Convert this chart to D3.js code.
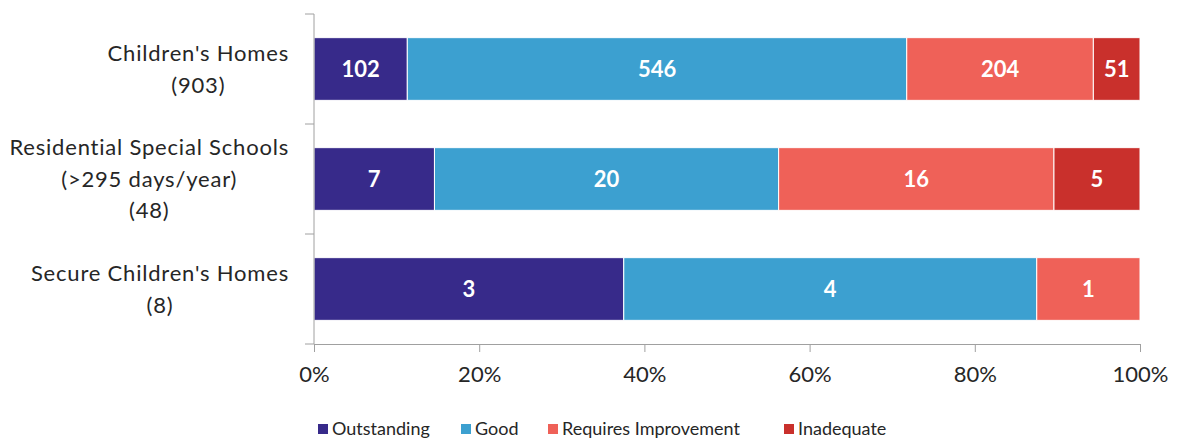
<!DOCTYPE html>
<html>
<head>
<meta charset="utf-8">
<script src="https://cdn.jsdelivr.net/npm/d3@7"></script>
<style>
  body { margin: 0; background: #fff; }
  svg { font-family: Lato, "Open Sans", sans-serif; }
</style>
</head>
<body>
<div id="chart"></div>
<script>
// 数据
const categories = ["Children's Homes|(903)", "Residential Special Schools|(>295 days/year)|(48)", "Secure Children's Homes|(8)"];
const seriesNames = ["Outstanding", "Good", "Requires Improvement", "Inadequate"];
const outstanding = [102, 7, 3];
const good = [546, 20, 4];
const requiresImprovement = [204, 16, 1];
const inadequate = [51, 5, 0];
const xTicks = [0, 0.2, 0.4, 0.6, 0.8, 1];
const colors = ["#372a8a", "#3ca0d0", "#ef6158", "#c9302c"];

// 宽表
const table = categories.map((c, i) => {
    const row = {cat: c};
    row[seriesNames[0]] = outstanding[i];
    row[seriesNames[1]] = good[i];
    row[seriesNames[2]] = requiresImprovement[i];
    row[seriesNames[3]] = inadequate[i];
    return row;
});

const margin = {top: 14, right: 38, bottom: 95, left: 314},
    width = 1178 - margin.left - margin.right,
    height = 439 - margin.top - margin.bottom;

const svg = d3.select("#chart")
    .append("svg")
    .attr("width", 1178)
    .attr("height", 439);

const g = svg.append("g")
    .attr("transform", `translate(${margin.left},${margin.top})`);

const x = d3.scaleLinear().domain([0, 1]).range([0, width]);
const y = d3.scaleBand().domain(categories).range([0, height]).paddingInner(0.43).paddingOuter(0.215);

const color = d3.scaleOrdinal().domain(seriesNames).range(colors);

// 百分比堆叠
const stack = d3.stack().keys(seriesNames).offset(d3.stackOffsetExpand);
const series = stack(table);

const layers = g.selectAll(".layer")
    .data(series)
    .enter().append("g")
    .attr("class", "layer")
    .attr("fill", d => color(d.key));

layers.selectAll("rect")
    .data(d => d.map(v => Object.assign(v, {key: d.key})))
    .enter().append("rect")
    .attr("x", d => x(d[0]))
    .attr("y", d => y(d.data.cat))
    .attr("width", d => x(d[1]) - x(d[0]))
    .attr("height", y.bandwidth())
    .attr("stroke", "#fff")
    .attr("stroke-width", 1);

// 数值标签
layers.selectAll("text")
    .data(d => d.filter(v => v.data[v.key] > 0))
    .enter().append("text")
    .attr("x", d => (x(d[0]) + x(d[1])) / 2)
    .attr("y", d => y(d.data.cat) + y.bandwidth() / 2)
    .attr("dy", "0.36em")
    .attr("text-anchor", "middle")
    .attr("fill", "#fff")
    .style("font-weight", "bold")
    .style("font-size", "22px")
    .text(d => d.data[d.key]);

// Y轴（分类边界刻度）
const bandStep = height / categories.length;
g.append("line")
    .attr("x1", 0).attr("x2", 0)
    .attr("y1", 0).attr("y2", height)
    .attr("stroke", "#a0a0a0");
g.selectAll(".ytick")
    .data(d3.range(categories.length + 1))
    .enter().append("line")
    .attr("class", "ytick")
    .attr("x1", -9).attr("x2", 0)
    .attr("y1", d => d * bandStep).attr("y2", d => d * bandStep)
    .attr("stroke", "#a0a0a0");

// 分类标签：行居中，整体右对齐
const catLabels = g.selectAll(".cat")
    .data(categories)
    .enter().append("text")
    .attr("class", "cat")
    .attr("text-anchor", "middle")
    .attr("fill", "#262626")
    .style("font-size", "22px")
    .style("letter-spacing", "0.8px");
catLabels.each(function(d) {
    const lines = d.split("|");
    const lh = 31.5;
    const cy = y(d) + y.bandwidth() / 2;
    const start = cy - (lines.length - 1) * lh / 2;
    const t = d3.select(this);
    const spans = t.selectAll("tspan")
        .data(lines)
        .enter().append("tspan")
        .attr("y", (l, i) => start + i * lh)
        .attr("dy", "0.36em")
        .text(l => l);
    const maxW = d3.max(spans.nodes(), n => n.getComputedTextLength());
    spans.attr("x", -25 - maxW / 2);
});

// X轴
const xAxis = g.append("g")
    .attr("transform", `translate(0,${height})`)
    .call(d3.axisBottom(x).tickValues(xTicks).tickFormat(d3.format(".0%")).tickSize(8).tickPadding(14));
xAxis.select(".domain").attr("stroke", "#a0a0a0");
xAxis.selectAll(".tick line").attr("stroke", "#a0a0a0");
xAxis.selectAll("text")
    .style("font-size", "22px")
    .style("font-family", "Lato, sans-serif")
    .attr("fill", "#262626");

// 图例
const legendX = [318, 461, 548, 784];
const legend = svg.append("g").attr("class", "legend");
const items = legend.selectAll("g")
    .data(seriesNames)
    .enter().append("g")
    .attr("transform", (d, i) => `translate(${legendX[i]},429)`);
items.append("rect")
    .attr("y", -5)
    .attr("width", 10)
    .attr("height", 10)
    .attr("fill", d => color(d));
items.append("text")
    .attr("x", 14)
    .attr("dy", "0.36em")
    .attr("fill", "#262626")
    .style("font-size", "18px")
    .text(d => d);
</script>
</body>
</html>
